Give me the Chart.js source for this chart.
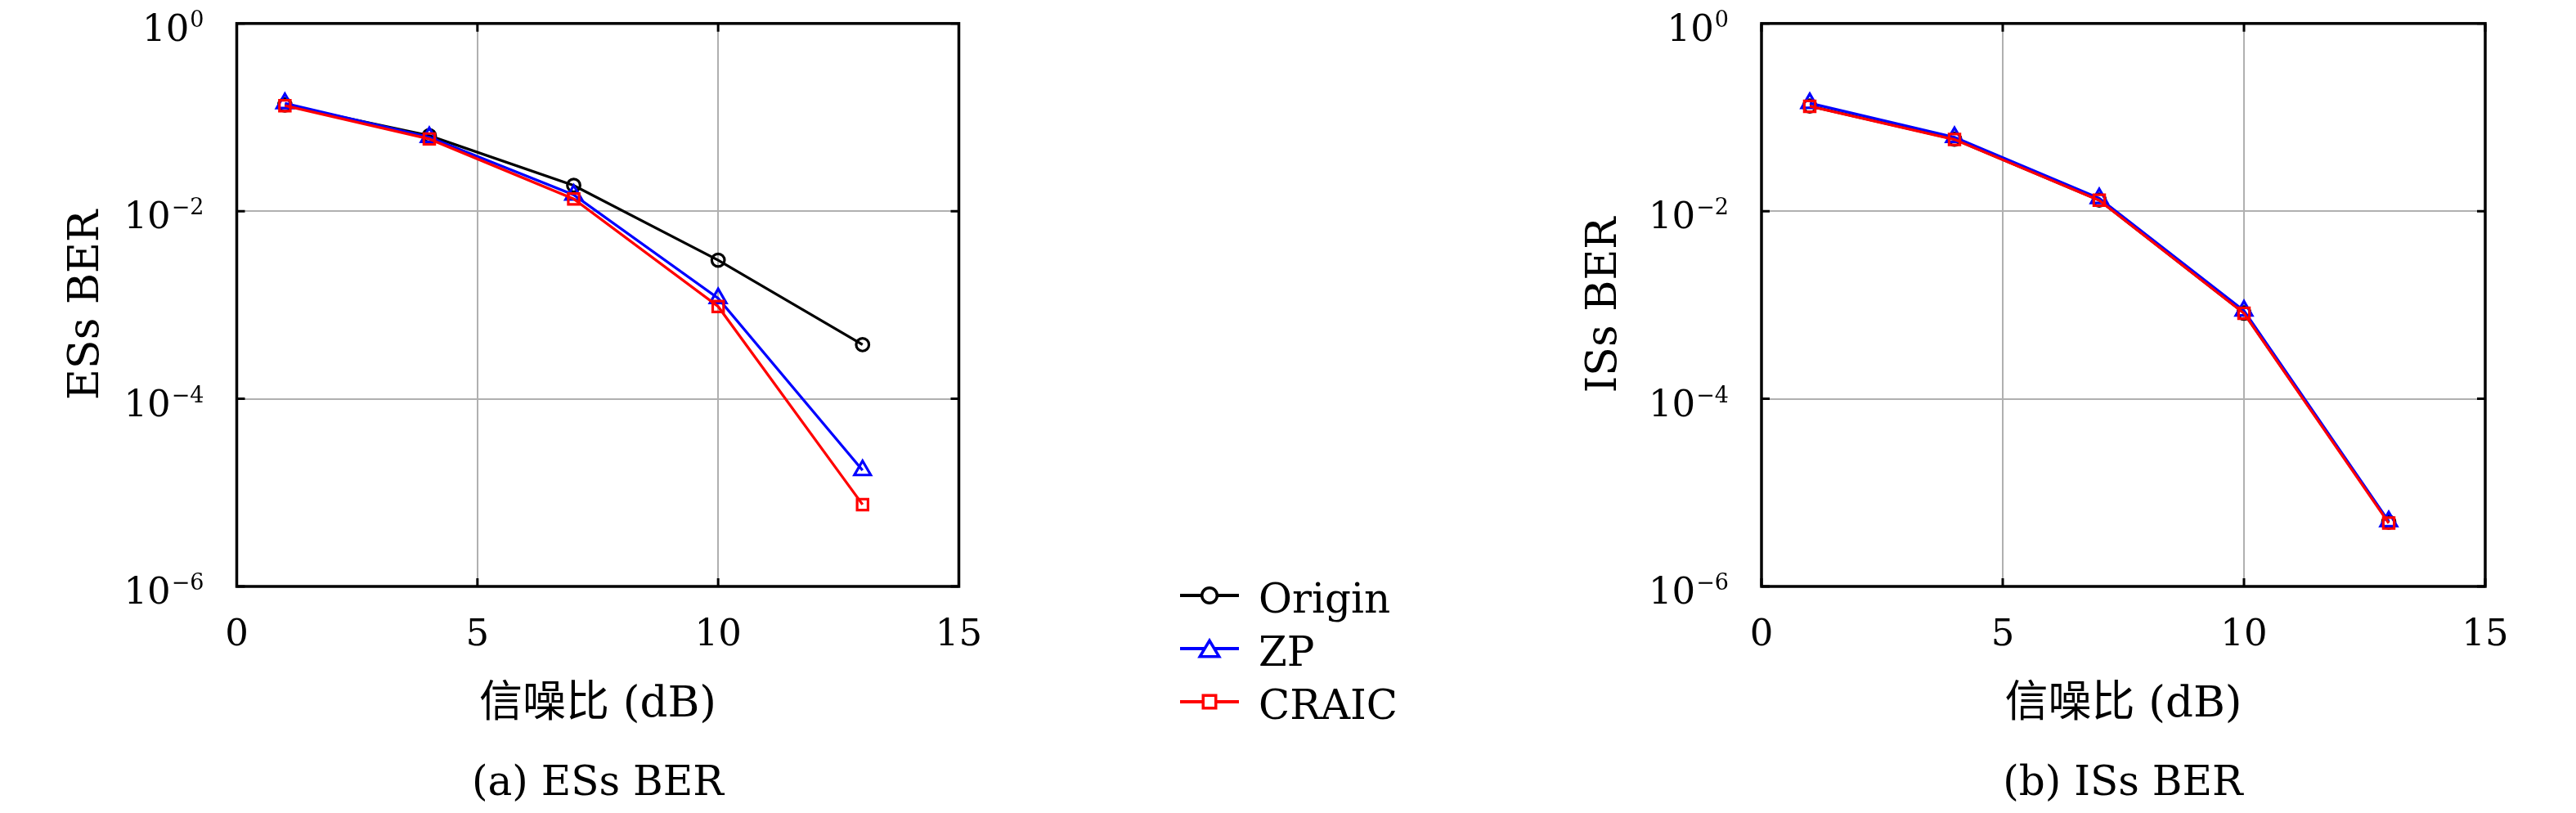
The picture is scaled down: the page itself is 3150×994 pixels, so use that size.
<!DOCTYPE html>
<html><head><meta charset="utf-8">
<script src="https://cdn.jsdelivr.net/npm/chart.js@4.4.1/dist/chart.umd.min.js"></script>
<style>
html,body{margin:0;padding:0;background:#fff;}
#wrap{position:relative;width:3150px;height:994px;overflow:hidden;background:#fff;}
canvas{position:absolute;top:0;}
.cap{position:absolute;font-family:'DejaVu Serif','Noto Sans CJK SC',serif;font-size:50px;color:#000;white-space:nowrap;transform:translate(-50%,-50%);line-height:1.2;}
.leg{position:absolute;font-family:'DejaVu Serif',serif;font-size:50px;line-height:1.2;white-space:nowrap;color:#000;}
</style></head>
<body><div id="wrap">
<canvas id="cA" width="1300" height="994" style="left:0px"></canvas>
<canvas id="cB" width="1300" height="994" style="left:1850px"></canvas>
<svg id="legSvg" width="400" height="250" style="position:absolute;left:1400px;top:680px"></svg>
<div id="capA" class="cap" style="left:731px;top:955px"></div>
<div id="capB" class="cap" style="left:2596px;top:955px"></div>
</div>
<script>
// ---------- data ----------
const snr = [1, 4, 7, 10, 13];
const seriesNames = ['Origin', 'ZP', 'CRAIC'];
const esOrigin = [0.1356, 0.0637, 0.0188, 0.0030, 3.77e-4];
const esZP     = [0.141, 0.0614, 0.0149, 0.00118, 1.73e-5];
const esCRAIC  = [0.133, 0.0588, 0.0135, 9.62e-4, 7.46e-6];
const isOrigin = [0.132, 0.0585, 0.0131, 8.2e-4, 4.85e-6];
const isZP     = [0.1415, 0.0614, 0.0137, 8.7e-4, 4.93e-6];
const isCRAIC  = [0.131, 0.058, 0.01305, 8.15e-4, 4.73e-6];
const xTicks = [0, 5, 10, 15];
const yTicks = [1e-6, 1e-4, 1e-2, 1];
const xTitle = '信噪比 (dB)';
const yTitleA = 'ESs BER';
const yTitleB = 'ISs BER';
const captionA = '(a) ESs BER';
const captionB = '(b) ISs BER';

// ---------- styles ----------
const FONT = "'DejaVu Serif', 'Noto Sans CJK SC', serif";
const styles = [
  {color: '#000000', pointStyle: 'circle',   radius: 7.8, order: 2},
  {color: '#0000ff', pointStyle: 'triangle', radius: 11.5, order: 1},
  {color: '#ff0000', pointStyle: 'rect',     radius: 9.4, order: 0}
];

const framePlugin = {
  id: 'frame',
  afterDraw(chart) {
    const {ctx, chartArea: a, scales: {x, y}} = chart;
    ctx.save();
    ctx.strokeStyle = '#000';
    ctx.lineWidth = 3;
    ctx.beginPath();
    y.ticks.forEach(t => {
      const p = y.getPixelForValue(t.value);
      ctx.moveTo(a.left, p); ctx.lineTo(a.left + 10, p);
      ctx.moveTo(a.right, p); ctx.lineTo(a.right - 10, p);
    });
    x.ticks.forEach(t => {
      const p = x.getPixelForValue(t.value);
      ctx.moveTo(p, a.bottom); ctx.lineTo(p, a.bottom - 10);
      ctx.moveTo(p, a.top); ctx.lineTo(p, a.top + 10);
    });
    ctx.stroke();
    ctx.lineWidth = 3.5;
    ctx.strokeRect(a.left, a.top, a.right - a.left, a.bottom - a.top);
    // y tick labels 10^k
    ctx.fillStyle = '#000';
    ctx.textBaseline = 'alphabetic';
    ctx.textAlign = 'left';
    y.ticks.forEach(t => {
      const p = y.getPixelForValue(t.value);
      const e = Math.round(Math.log10(t.value));
      const sup = e < 0 ? '\u2212' + (-e) : String(e);
      ctx.font = "27px 'DejaVu Serif'";
      const ws = ctx.measureText(sup).width;
      ctx.font = "45px 'DejaVu Serif'";
      const wb = ctx.measureText('10').width;
      const right = a.left - 40;
      ctx.fillText('10', right - ws - wb - 1, p + 21);
      ctx.font = "27px 'DejaVu Serif'";
      ctx.fillText(sup, right - ws, p + 4);
    });
    ctx.restore();
  }
};

function makeChart(id, seriesVals, yTitle, cfg) {
  const datasets = seriesVals.map((vals, i) => ({
    label: seriesNames[i],
    data: snr.map((xv, j) => ({x: xv, y: vals[j]})),
    borderColor: styles[i].color,
    backgroundColor: styles[i].color,
    borderWidth: 3.3,
    pointStyle: styles[i].pointStyle,
    pointRadius: styles[i].radius,
    pointHoverRadius: styles[i].radius,
    pointBorderWidth: 3.2,
    pointBorderColor: styles[i].color,
    pointBackgroundColor: 'rgba(0,0,0,0)',
    tension: 0,
    fill: false,
    order: styles[i].order
  }));
  return new Chart(document.getElementById(id), {
    type: 'line',
    data: {datasets},
    plugins: [framePlugin],
    options: {
      responsive: false,
      animation: false,
      devicePixelRatio: 1,
      layout: {padding: {left: 0, right: cfg.padRight, top: 28.7, bottom: 0}},
      plugins: {legend: {display: false}, tooltip: {enabled: false}},
      scales: {
        x: {
          type: 'linear', min: 0, max: 15,
          afterBuildTicks: s => { s.ticks = xTicks.map(v => ({value: v})); },
          afterFit: s => { s.height = 277; },
          ticks: {font: {family: FONT, size: 45}, color: '#000', padding: 33, maxRotation: 0, autoSkip: false},
          grid: {color: '#b0b0b0', lineWidth: 2, drawTicks: false},
          border: {display: false},
          title: {display: true, text: xTitle, color: '#000', font: {family: FONT, size: 53}, padding: {top: 0, bottom: 100}}
        },
        y: {
          type: 'logarithmic', min: 1e-6, max: 1,
          afterBuildTicks: s => { s.ticks = yTicks.map(v => ({value: v})); },
          afterFit: s => { s.width = cfg.yWidth; },
          ticks: {display: false},
          grid: {color: '#b0b0b0', lineWidth: 2, drawTicks: false},
          border: {display: false},
          title: {display: true, text: yTitle, color: '#000', font: {family: FONT, size: 52}, padding: {top: cfg.yTitlePad, bottom: 0}}
        }
      }
    }
  });
}

makeChart('cA', [esOrigin, esZP, esCRAIC], yTitleA, {padRight: 127.5, yWidth: 289.5, yTitlePad: 75});
makeChart('cB', [isOrigin, isZP, isCRAIC], yTitleB, {padRight: 111, yWidth: 304, yTitlePad: 81});

document.getElementById('capA').textContent = captionA;
document.getElementById('capB').textContent = captionB;

// ---------- legend ----------
(function () {
  const svg = document.getElementById('legSvg');
  const NS = 'http://www.w3.org/2000/svg';
  const ox = 1400, oy = 680;
  const rowY = [728, 793, 858];
  const lineX0 = 1443, lineX1 = 1515, mx = 1479;
  seriesNames.forEach((name, i) => {
    const c = styles[i].color;
    const cy = rowY[i] - oy;
    const ln = document.createElementNS(NS, 'line');
    ln.setAttribute('x1', lineX0 - ox); ln.setAttribute('x2', lineX1 - ox);
    ln.setAttribute('y1', cy); ln.setAttribute('y2', cy);
    ln.setAttribute('stroke', c); ln.setAttribute('stroke-width', 4);
    svg.appendChild(ln);
    let m;
    const cx = mx - ox;
    if (styles[i].pointStyle === 'circle') {
      m = document.createElementNS(NS, 'circle');
      m.setAttribute('cx', cx); m.setAttribute('cy', cy); m.setAttribute('r', 9.3);
    } else if (styles[i].pointStyle === 'triangle') {
      m = document.createElementNS(NS, 'polygon');
      m.setAttribute('points', `${cx},${cy - 9.75} ${cx - 11.75},${cy + 9.75} ${cx + 11.75},${cy + 9.75}`);
    } else {
      m = document.createElementNS(NS, 'rect');
      m.setAttribute('x', cx - 7.75); m.setAttribute('y', cy - 7.75);
      m.setAttribute('width', 15.5); m.setAttribute('height', 15.5);
    }
    m.setAttribute('fill', 'white'); m.setAttribute('stroke', c); m.setAttribute('stroke-width', 3.5);
    svg.appendChild(m);
    const d = document.createElement('div');
    d.className = 'leg';
    d.textContent = name;
    d.style.left = '1539px';
    d.style.top = (rowY[i] + 3 - 0.58 * 50) + 'px';
    document.getElementById('wrap').appendChild(d);
  });
})();
</script>
</body></html>
